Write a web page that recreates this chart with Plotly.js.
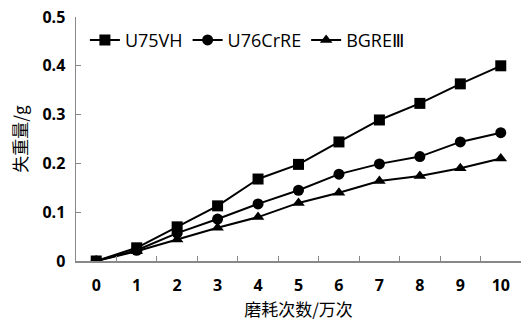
<!DOCTYPE html>
<html><head><meta charset="utf-8">
<script src="https://cdn.plot.ly/plotly-3.0.1.min.js"></script>
<style>body{margin:0;background:#fff}#chart{width:522px;height:323px}</style>
</head><body><div id="chart"></div>
<script>
const categories = ["0","1","2","3","4","5","6","7","8","9","10"];
const u75vh   = [0, 0.027, 0.070, 0.113, 0.168, 0.198, 0.244, 0.289, 0.323, 0.363, 0.400];
const u76crre = [0, 0.022, 0.057, 0.086, 0.117, 0.145, 0.178, 0.199, 0.214, 0.244, 0.263];
const bgre    = [0, 0.020, 0.044, 0.068, 0.090, 0.119, 0.140, 0.164, 0.174, 0.190, 0.210];
const names = ["U75VH", "U76CrRE", "BGREⅢ"];

const mk = (y, name, sym, size) => ({
  x: categories, y: y, name: name, type: "scatter", mode: "lines+markers",
  line: {color: "#000", width: 2},
  marker: {symbol: sym, size: size, color: "#000"}
});
const data = [
  mk(u75vh, names[0], "square", 11),
  mk(u76crre, names[1], "circle", 11),
  mk(bgre, names[2], "triangle-up", 11)
];
const layout = {
  width: 522, height: 323,
  margin: {l: 76, r: 1, t: 17, b: 62},
  paper_bgcolor: "#fff", plot_bgcolor: "#fff",
  showlegend: true,
  legend: {orientation: "h", x: 0.02, y: 0.905, yanchor: "middle", xanchor: "left",
           font: {family: "Open Sans, sans-serif", size: 18, color: "#000"},
           bgcolor: "rgba(0,0,0,0)", itemwidth: 30, tracegroupgap: 0},
  xaxis: {
    type: "category", range: [-0.5, 10.5], tickson: "boundaries",
    showline: true, linecolor: "#888", linewidth: 1.5,
    ticks: "inside", ticklen: 5, tickcolor: "#888",
    showgrid: false, zeroline: false, ticklabelstandoff: 9,
    tickfont: {family: "Open Sans, sans-serif", size: 16, color: "#000", weight: "bold"},
    title: {text: "磨耗次数/万次", font: {family: "Noto Sans CJK SC", size: 17, color: "#000"}, standoff: 6}
  },
  yaxis: {
    range: [0, 0.5], dtick: 0.1, tick0: 0,
    showline: true, linecolor: "#888", linewidth: 1.5,
    ticks: "inside", ticklen: 5, tickcolor: "#888",
    showgrid: false, zeroline: false, ticklabelstandoff: 6,
    tickfont: {family: "Open Sans, sans-serif", size: 16, color: "#000", weight: "bold"},
    title: {text: "失重量/g", font: {family: "Noto Sans CJK SC", size: 17, color: "#000"}, standoff: 10}
  }
};
Plotly.newPlot("chart", data, layout, {displayModeBar: false, staticPlot: true});
</script></body></html>
